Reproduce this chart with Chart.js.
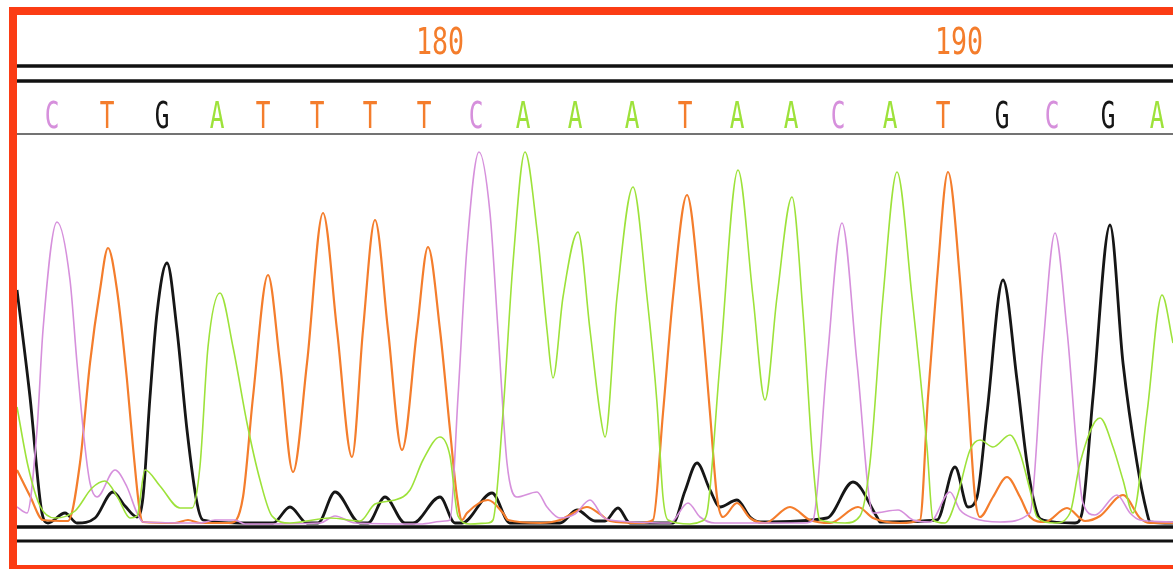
<!DOCTYPE html>
<html>
<head>
<meta charset="utf-8">
<style>
  html, body { margin: 0; padding: 0; background: #fff; }
  #caixa { position: absolute; left: 0; top: 0; width: 1173px; height: 569px; }
</style>
<script src="https://cdn.jsdelivr.net/npm/chart.js@4/dist/chart.umd.min.js"></script>
</head>
<body>
<div id="caixa"><canvas id="grafico"></canvas></div>
<script>
// base calls and their scan positions
const bases = ['C','T','G','A','T','T','T','T','C','A','A','A','T','A','A','C','A','T','G','C','G','A'];
const basePos = [52,107,162,217,263,317,370,424,476,523,575,632,685,737,791,838,890,943,1002,1052,1108,1157];

// position numbers over the base row
const numLabels = ['180','190'];
const numPos = [440,959];

// traces: [scan, intensity]
const traceA = [[17,119],[28,60],[40,20],[55,8],[75,15],[92,38],[105,45],[118,28],[130,8],[137,10],[145,56],[160,40],[180,18],[192,18],[200,60],[208,179],[220,233],[233,179],[247,103],[260,46],[272,10],[290,3],[330,8],[360,5],[375,22],[395,26],[410,36],[423,66],[440,89],[450,70],[458,10],[470,2],[488,3],[493,6],[503,113],[513,263],[525,374],[537,296],[547,196],[553,148],[563,229],[578,294],[590,196],[600,113],[605,89],[617,229],[633,339],[647,229],[657,123],[663,29],[668,6],[690,2],[702,5],[707,13],[720,163],[738,356],[753,229],[765,126],[777,229],[792,329],[803,213],[813,63],[820,6],[845,3],[860,10],[870,63],[883,229],[897,354],[912,229],[927,79],[933,6],[945,3],[957,29],[970,76],[980,86],[993,79],[1010,91],[1020,73],[1030,36],[1037,9],[1055,3],[1070,13],[1080,63],[1100,108],[1113,79],[1123,46],[1133,13],[1147,113],[1162,231],[1173,183]];

const traceC = [[17,19],[27,13],[37,96],[43,196],[57,304],[70,246],[77,163],[85,79],[90,43],[97,29],[115,56],[127,39],[137,13],[143,4],[200,3],[215,6],[235,6],[245,2],[320,3],[335,10],[355,3],[420,2],[445,5],[450,6],[458,129],[467,279],[479,374],[490,313],[498,196],[507,63],[517,29],[537,34],[547,19],[560,8],[575,12],[590,26],[603,9],[610,6],[670,3],[688,23],[700,9],[715,3],[805,3],[813,6],[827,163],[842,303],[857,163],[873,13],[898,16],[913,6],[930,4],[950,34],[960,16],[973,8],[1000,4],[1030,13],[1043,179],[1055,293],[1067,196],[1083,23],[1095,11],[1117,31],[1130,13],[1140,6],[1173,4]];

const traceG = [[17,236],[30,129],[42,13],[48,3],[65,13],[77,3],[95,8],[113,34],[125,20],[137,9],[143,29],[150,129],[157,213],[167,263],[177,196],[187,96],[197,23],[203,6],[240,3],[273,3],[290,19],[307,3],[318,3],[335,34],[360,3],[368,3],[385,29],[405,3],[413,3],[440,29],[455,3],[462,3],[492,33],[510,3],[560,3],[577,16],[595,5],[605,5],[618,18],[630,3],[673,3],[685,35],[697,63],[710,36],[720,19],[737,26],[750,9],[760,4],[827,8],[853,44],[877,9],[880,4],[937,6],[955,59],[968,19],[977,29],[987,113],[1003,246],[1017,146],[1027,63],[1037,13],[1043,6],[1075,3],[1082,13],[1093,129],[1110,301],[1123,163],[1137,63],[1147,13],[1150,4],[1173,3]];

const traceT = [[17,56],[30,30],[43,6],[68,5],[80,63],[90,163],[100,236],[108,278],[117,236],[127,146],[133,79],[140,13],[143,4],[175,3],[188,6],[200,3],[230,3],[243,29],[253,129],[268,251],[280,163],[293,54],[307,163],[323,313],[337,196],[352,69],[363,196],[375,306],[388,196],[402,76],[417,196],[428,279],[440,196],[450,96],[457,29],[462,6],[467,13],[488,26],[503,13],[508,6],[540,3],[560,6],[575,14],[587,19],[600,12],[610,5],[640,3],[653,6],[663,113],[673,229],[687,331],[700,229],[710,113],[717,29],[723,9],[737,23],[750,8],[765,3],[790,19],[810,6],[830,3],[858,19],[873,8],[900,3],[920,6],[928,129],[937,246],[948,354],[960,246],[968,129],[975,29],[980,9],[993,29],[1007,49],[1020,29],[1030,9],[1045,4],[1067,18],[1085,5],[1100,10],[1123,31],[1140,8],[1150,3],[1173,3]];

const cores = { A: '#9de23a', C: '#d690dc', G: '#161616', T: '#f47d2c' };

function pontos(t) {
  return t.map(p => ({ x: p[0], y: p[1] }));
}

function serie(nome, t, largura) {
  return {
    label: nome,
    data: pontos(t),
    borderColor: cores[nome],
    borderWidth: largura,
    pointRadius: 0,
    fill: false,
    cubicInterpolationMode: 'monotone'
  };
}

function linha(ctx, y, w, cor) {
  ctx.beginPath();
  ctx.strokeStyle = cor;
  ctx.lineWidth = w;
  ctx.moveTo(17, y);
  ctx.lineTo(1173, y);
  ctx.stroke();
}

function texto(ctx, s, x, y, cor, escala) {
  ctx.save();
  ctx.translate(x, y);
  ctx.scale(escala, 1);
  ctx.fillStyle = cor;
  ctx.textAlign = 'center';
  ctx.textBaseline = 'alphabetic';
  ctx.fillText(s, 0, 0);
  ctx.restore();
}

const moldura = {
  id: 'moldura',
  beforeDatasetsDraw(chart) {
    const ctx = chart.ctx;
    const xs = chart.scales.x;
    ctx.save();
    linha(ctx, 66, 3.5, '#111');
    linha(ctx, 81, 3.5, '#111');
    linha(ctx, 134, 1.5, '#444');
    ctx.font = '37px "DejaVu Sans Mono"';
    bases.forEach((b, i) => {
      texto(ctx, b, xs.getPixelForValue(basePos[i]), 128, cores[b], 0.66);
    });
    numLabels.forEach((n, i) => {
      texto(ctx, n, xs.getPixelForValue(numPos[i]), 54, '#f47d2c', 0.72);
    });
    ctx.restore();
  },
  afterDatasetsDraw(chart) {
    const ctx = chart.ctx;
    const y0 = chart.scales.y.getPixelForValue(0);
    ctx.save();
    linha(ctx, y0 + 1, 3.5, '#111');
    linha(ctx, y0 + 15, 3, '#111');
    ctx.fillStyle = '#fb3c14';
    ctx.fillRect(9, 7, 1164, 8);
    ctx.fillRect(9, 7, 8, 562);
    ctx.fillRect(9, 565, 1164, 4);
    ctx.restore();
  }
};

new Chart(document.getElementById('grafico'), {
  type: 'line',
  data: {
    datasets: [
      serie('A', traceA, 1.6),
      serie('C', traceC, 1.6),
      serie('T', traceT, 2.2),
      serie('G', traceG, 2.8)
    ]
  },
  options: {
    responsive: true,
    maintainAspectRatio: false,
    animation: false,
    layout: { padding: { left: 17, right: 0, top: 134, bottom: 43 } },
    scales: {
      x: { type: 'linear', min: 17, max: 1173, display: false },
      y: { type: 'linear', min: 0, max: 392, display: false }
    },
    plugins: {
      legend: { display: false },
      tooltip: { enabled: false }
    }
  },
  plugins: [moldura]
});
</script>
</body>
</html>
